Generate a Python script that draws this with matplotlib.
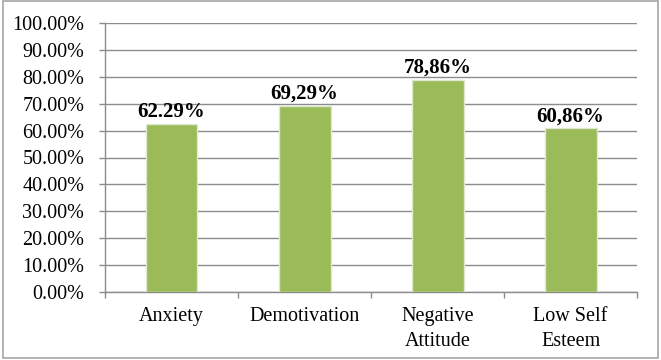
import matplotlib
matplotlib.use('Agg')
import matplotlib.pyplot as plt
from matplotlib.patches import Rectangle
from matplotlib.ticker import FuncFormatter, MultipleLocator, FixedLocator
import numpy as np

# chart data
categories = ['Anxiety', 'Demotivation', 'Negative\nAttitude', 'Low Self\nEsteem']
values = [62.29, 69.29, 78.86, 60.86]
value_labels = ['62.29%', '69,29%', '78,86%', '60,86%']

plt.rcParams['font.family'] = ['Liberation Serif', 'DejaVu Serif']

fig = plt.figure(figsize=(6.61, 3.6), dpi=100, facecolor='white')
ax = fig.add_axes([0.1589, 0.189, 0.805, 0.747])

# grey frame round the whole chart
fig.patches.append(Rectangle((0.005, 0.006), 0.99, 0.99, transform=fig.transFigure,
                             fill=False, edgecolor='#a6a6a6', linewidth=1.2))

x = np.arange(len(categories))
bars = ax.bar(x, values, width=0.39, color='#9BBB59', edgecolor='#dfe8cf',
              linewidth=1.0, zorder=3)

for bar, lab in zip(bars, value_labels):
    ax.text(bar.get_x() + bar.get_width() / 2, bar.get_height() + 0.8, lab,
            ha='center', va='bottom', fontsize=15, weight='bold', color='black')

ax.set_xlim(-0.5, len(categories) - 0.5)
ax.set_ylim(0, 100)
ax.yaxis.set_major_locator(MultipleLocator(10))
ax.yaxis.set_major_formatter(FuncFormatter(lambda v, p: f'{v:.2f}%'))
ax.grid(axis='y', color='#8c8c8c', linewidth=1.0, zorder=0)

# category labels in the middle, ticks on the boundaries
ax.set_xticks(x)
ax.set_xticklabels(categories, fontsize=14.5, linespacing=1.4)
ax.tick_params(axis='x', which='major', length=0, pad=11)
ax.xaxis.set_minor_locator(FixedLocator(np.arange(-0.5, len(categories), 1.0)))
ax.tick_params(axis='x', which='minor', length=4, width=1, color='#8c8c8c', direction='out')
ax.tick_params(axis='y', labelsize=14.5, length=4, width=1, color='#8c8c8c', pad=11)

for side in ['top', 'right']:
    ax.spines[side].set_visible(False)
for side in ['left', 'bottom']:
    ax.spines[side].set_color('#8c8c8c')
    ax.spines[side].set_linewidth(1.0)

plt.savefig('out.png', dpi=100, facecolor='white')
plt.close(fig)
